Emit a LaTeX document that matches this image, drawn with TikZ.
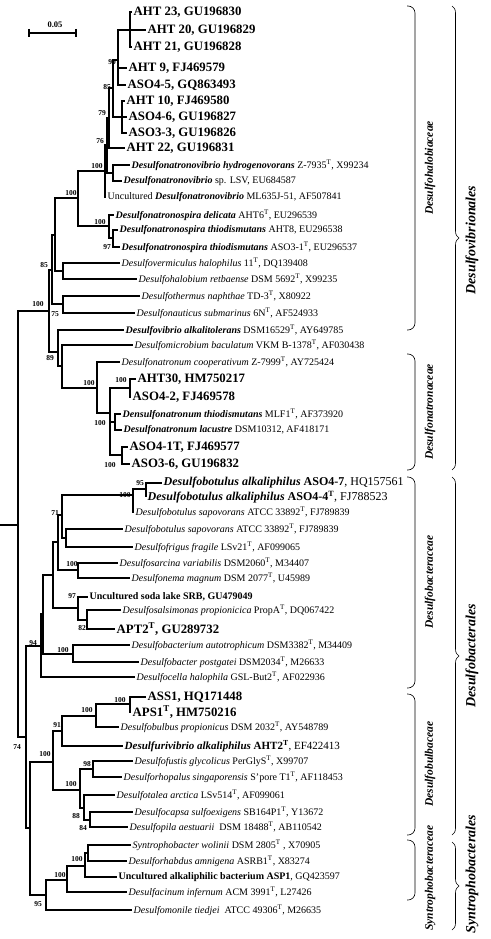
\documentclass[tikz,border=0pt]{standalone}
\usepackage{fontspec}
\setmainfont{Liberation Serif}
\usetikzlibrary{calc,decorations.pathreplacing}
\newcommand{\bi}[1]{\textbf{\textit{#1}}}
\newcommand{\Ty}{\textsuperscript{T}}

\begin{document}
\begin{tikzpicture}[
  x=1pt, y=-1pt,
  branch/.style={line width=1.3pt},
  taxon/.style={anchor=west, inner xsep=1.5pt, inner ysep=0pt, font=\fontsize{10}{12}\selectfont},
  taxonbig/.style={taxon, font=\fontsize{12}{14}\selectfont},
  isolate/.style={taxon, font=\fontsize{12.8}{14}\selectfont\bfseries},
  bootval/.style={inner sep=0pt, font=\fontsize{7.5}{8}\selectfont\bfseries},
  familybrace/.style={line width=0.6pt, rounded corners=7pt},
  orderbrace/.style={line width=0.6pt, decorate, decoration={brace, amplitude=7pt}},
  familylabel/.style={rotate=90, font=\fontsize{11.5}{13}\selectfont\bfseries\itshape},
  orderlabel/.style={rotate=90, font=\fontsize{14}{16}\selectfont\bfseries\itshape}
]
\useasboundingbox (0,0) rectangle (490,939);

% scale bar
\coordinate (bar0) at (29,33);
\coordinate (bar1) at (76,33);
\draw[line width=1.1pt] (bar0) -- (bar1);
\draw[line width=1.1pt] ($(bar0)+(0,-4)$) -- ($(bar0)+(0,4)$);
\draw[line width=1.1pt] ($(bar1)+(0,-4)$) -- ($(bar1)+(0,4)$);
\node[bootval, font=\fontsize{8.5}{9}\selectfont\bfseries] (barlabel) at (55,25) {0.05};

% leaves: Desulfovibrionales
\node[isolate] (l01) at (132,12) {AHT 23, GU196830};
\node[isolate] (l02) at (146,30) {AHT 20, GU196829};
\node[isolate] (l03) at (132,47) {AHT 21, GU196828};
\node[isolate] (l04) at (127,68) {AHT 9, FJ469579};
\node[isolate] (l05) at (126,85) {ASO4-5, GQ863493};
\node[isolate] (l06) at (125,101) {AHT 10, FJ469580};
\node[isolate] (l07) at (127,117) {ASO4-6, GU196827};
\node[isolate] (l08) at (127,133) {ASO3-3, GU196826};
\node[isolate] (l09) at (125,148) {AHT 22, GU196831};
\node[taxon] (l10) at (130,165) {\bi{Desulfonatronovibrio hydrogenovorans} Z-7935\Ty, X99234};
\node[taxon] (l11) at (122,181) {\bi{Desulfonatronovibrio} sp. LSV, EU684587};
\node[taxon] (l12) at (106,197) {Uncultured \bi{Desulfonatronovibrio} ML635J-51, AF507841};
\node[taxon] (l13) at (114,215) {\bi{Desulfonatronospira delicata} AHT6\Ty, EU296539};
\node[taxon] (l14) at (118,230) {\bi{Desulfonatronospira thiodismutans} AHT8, EU296538};
\node[taxon] (l15) at (120,247) {\bi{Desulfonatronospira thiodismutans} ASO3-1\Ty, EU296537};
\node[taxon] (l16) at (120,263) {\textit{Desulfovermiculus halophilus} 11\Ty, DQ139408};
\node[taxon] (l17) at (137,279) {\textit{Desulfohalobium retbaense} DSM 5692\Ty, X99235};
\node[taxon] (l18) at (140,296) {\textit{Desulfothermus naphthae} TD-3\Ty, X80922};
\node[taxon] (l19) at (135,313) {\textit{Desulfonauticus submarinus} 6N\Ty, AF524933};
\node[taxon] (l20) at (124,330) {\bi{Desulfovibrio alkalitolerans} DSM16529\Ty, AY649785};
\node[taxon] (l21) at (133,345) {\textit{Desulfomicrobium baculatum} VKM B-1378\Ty, AF030438};
\node[taxon] (l22) at (120,362) {\textit{Desulfonatronum cooperativum} Z-7999\Ty, AY725424};
\node[isolate] (l23) at (136,379) {AHT30, HM750217};
\node[isolate] (l24) at (131,397) {ASO4-2, FJ469578};
\node[taxon] (l25) at (121,414) {\bi{Densulfonatronum thiodismutans} MLF1\Ty, AF373920};
\node[taxon] (l26) at (122,430) {\bi{Desulfonatronum lacustre} DSM10312, AF418171};
\node[isolate] (l27) at (128,447) {ASO4-1T, FJ469577};
\node[isolate] (l28) at (130,464) {ASO3-6, GU196832};

% leaves: Desulfobacterales
\node[taxonbig] (l29) at (162,483) {\bi{Desulfobotulus alkaliphilus} \textbf{ASO4-7}, HQ157561};
\node[taxonbig] (l30) at (146,497) {\bi{Desulfobotulus alkaliphilus} \textbf{ASO4-4\Ty}, FJ788523};
\node[taxon] (l31) at (134,512) {\textit{Desulfobotulus sapovorans} ATCC 33892\Ty, FJ789839};
\node[taxon] (l32) at (123,529) {\textit{Desulfobotulus sapovorans} ATCC 33892\Ty, FJ789839};
\node[taxon] (l33) at (133,547) {\textit{Desulfofrigus fragile} LSv21\Ty, AF099065};
\node[taxon] (l34) at (118,563) {\textit{Desulfosarcina variabilis} DSM2060\Ty, M34407};
\node[taxon] (l35) at (130,578) {\textit{Desulfonema magnum} DSM 2077\Ty, U45989};
\node[taxon] (l36) at (88,597) {\textbf{Uncultured soda lake SRB, GU479049}};
\node[taxon] (l37) at (121,610) {\textit{Desulfosalsimonas propionicica} PropA\Ty, DQ067422};
\node[isolate] (l38) at (115,629) {APT2\Ty, GU289732};
\node[taxon] (l39) at (130,645) {\textit{Desulfobacterium autotrophicum} DSM3382\Ty, M34409};
\node[taxon] (l40) at (139,662) {\textit{Desulfobacter postgatei} DSM2034\Ty, M26633};
\node[taxon] (l41) at (135,677) {\textit{Desulfocella halophila} GSL-But2\Ty, AF022936};
\node[isolate] (l42) at (146,697) {ASS1, HQ171448};
\node[isolate] (l43) at (131,712) {APS1\Ty, HM750216};
\node[taxon] (l44) at (119,727) {\textit{Desulfobulbus propionicus} DSM 2032\Ty, AY548789};
\node[taxon, font=\fontsize{11}{13}\selectfont] (l45) at (123,746) {\bi{Desulfurivibrio alkaliphilus} \textbf{AHT2\Ty}, EF422413};
\node[taxon] (l46) at (133,761) {\textit{Desulfofustis glycolicus} PerGlyS\Ty, X99707};
\node[taxon] (l47) at (122,777) {\textit{Desulforhopalus singaporensis} S'pore T1\Ty, AF118453};
\node[taxon] (l48) at (115,795) {\textit{Desulfotalea arctica} LSv514\Ty, AF099061};
\node[taxon] (l49) at (133,812) {\textit{Desulfocapsa sulfoexigens} SB164P1\Ty, Y13672};
\node[taxon] (l50) at (128,827) {\textit{Desulfopila aestuarii}\ \ DSM 18488\Ty, AB110542};

% leaves: Syntrophobacterales
\node[taxon] (l51) at (131,845) {\textit{Syntrophobacter wolinii} DSM 2805\Ty\ , X70905};
\node[taxon] (l52) at (127,861) {\textit{Desulforhabdus amnigena} ASRB1\Ty, X83274};
\node[taxon] (l53) at (117,877) {\textbf{Uncultured alkaliphilic bacterium ASP1}, GQ423597};
\node[taxon] (l54) at (127,892) {\textit{Desulfacinum infernum} ACM 3991\Ty, L27426};
\node[taxon] (l55) at (132,910) {\textit{Desulfomonile tiedjei}\ \ ATCC 49306\Ty, M26635};

% inner nodes
\coordinate (c1) at (130,30);
\coordinate (c2) at (118,60);
\coordinate (c3) at (122,117);
\coordinate (c4) at (113,88);
\coordinate (c5) at (109,118);
\coordinate (c6) at (113,173);
\coordinate (c7) at (107,145);
\coordinate (c8) at (105,171);
\coordinate (c9) at (113,238);
\coordinate (c10) at (109,226);
\coordinate (c11) at (78,198);
\coordinate (c12) at (63,271);
\coordinate (c13) at (63,304);
\coordinate (c14) at (55,235);
\coordinate (c15) at (52,270);
\coordinate (c16) at (130,388);
\coordinate (c17) at (115,422);
\coordinate (c18) at (122,455);
\coordinate (c19) at (110,413);
\coordinate (c20) at (97,388);
\coordinate (c21) at (62,366);
\coordinate (c22) at (58,352);
\coordinate (c23) at (49,311);
\coordinate (c24) at (146,489);
\coordinate (c25) at (133,495);
\coordinate (c26) at (66,538);
\coordinate (c27) at (62,515);
\coordinate (c28) at (78,570);
\coordinate (c29) at (58,542);
\coordinate (c30) at (87,620);
\coordinate (c31) at (78,608);
\coordinate (c32) at (53,575);
\coordinate (c33) at (73,654);
\coordinate (c34) at (43,614);
\coordinate (c35) at (41,646);
\coordinate (c36) at (130,704);
\coordinate (c37) at (96,716);
\coordinate (c38) at (62,731);
\coordinate (c39) at (93,769);
\coordinate (c40) at (90,820);
\coordinate (c41) at (84,808);
\coordinate (c42) at (80,790);
\coordinate (c43) at (53,762);
\coordinate (c44) at (88,853);
\coordinate (c45) at (85,866);
\coordinate (c46) at (67,880);
\coordinate (c47) at (46,895);
\coordinate (c48) at (30,828);
\coordinate (c49) at (26,737);
\coordinate (root) at (18,525);
\coordinate (stem) at (0,525);

% branches to leaves
\foreach \p/\c in {c1/l01, c1/l02, c1/l03, c2/l04, c2/l05, c3/l06, c3/l07, c3/l08,
    c5/l09, c6/l10, c6/l11, c8/l12, c10/l13, c9/l14, c9/l15, c12/l16, c12/l17,
    c13/l18, c13/l19, c22/l20, c21/l21, c20/l22, c16/l23, c16/l24, c17/l25, c17/l26,
    c18/l27, c18/l28, c24/l29, c24/l30, c25/l31, c26/l32, c26/l33, c28/l34, c28/l35,
    c31/l36, c30/l37, c30/l38, c33/l39, c33/l40, c35/l41, c36/l42, c36/l43, c37/l44,
    c38/l45, c39/l46, c39/l47, c41/l48, c40/l49, c40/l50, c44/l51, c44/l52, c45/l53,
    c46/l54, c47/l55}
  \draw[branch] (\p) |- (\c.west);

% branches between inner nodes
\foreach \p/\c in {c2/c1, c4/c2, c4/c3, c5/c4, c7/c5, c7/c6, c8/c7, c10/c9, c11/c8,
    c11/c10, c14/c11, c14/c12, c15/c14, c15/c13, c19/c16, c19/c17, c19/c18, c20/c19,
    c21/c20, c22/c21, c23/c15, c23/c22, c25/c24, c27/c25, c27/c26, c29/c27, c29/c28,
    c31/c30, c32/c29, c32/c31, c34/c32, c34/c33, c35/c34, c37/c36, c38/c37, c41/c40,
    c42/c39, c42/c41, c43/c38, c43/c42, c45/c44, c46/c45, c47/c46, c48/c43, c48/c47,
    c49/c35, c49/c48, root/c23, root/c49}
  \draw[branch] (\p) |- (\c);
\draw[branch] (stem) -- (root);

% bootstrap values
\foreach \bx/\by/\bv [count=\i] in {112/62/90, 107/87/85, 102/113/79, 100/141/76,
    97/166/100, 71/193/100, 100/222/100, 107/247/97, 44/265/85, 38/304/100, 55/314/75,
    50/358/89, 89/383/100, 121/380/100, 100/423/100, 110/465/100, 140/483/95,
    125/495/100, 55/513/71, 72/564/100, 72/596/97, 82/628/82, 33/643/94, 63/650/100,
    120/700/100, 87/710/100, 57/725/91, 17/747/74, 45/754/100, 87/764/98, 71/784/100,
    76/816/88, 83/828/84, 77/859/100, 60/875/100, 38/904/95}
  \node[bootval] (bs\i) at (\bx,\by) {\bv};

% families
\draw[familybrace] (407,6) -- (415,6) -- (415,330) -- (407,330);
\node[familylabel] (fam1) at (430,168) {Desulfohalobiaceae};
\draw[familybrace] (407,354) -- (415,354) -- (415,470) -- (407,470);
\node[familylabel] (fam2) at (430,412) {Desulfonatronaceae};
\draw[familybrace] (407,477) -- (415,477) -- (415,688) -- (407,688);
\node[familylabel] (fam3) at (430,582) {Desulfobacteraceae};
\draw[familybrace] (407,694) -- (415,694) -- (415,835) -- (407,835);
\node[familylabel] (fam4) at (430,764) {Desulfobulbaceae};
\draw[familybrace] (407,840) -- (415,840) -- (415,900) -- (407,900);
\node[familylabel] (fam5) at (430,878) {Syntrophobacteraceae};

% orders
\draw[orderbrace] (452,6) -- (452,470);
\node[orderlabel] (ord1) at (472,240) {Desulfovibrionales};
\draw[orderbrace] (452,477) -- (452,835);
\node[orderlabel] (ord2) at (472,656) {Desulfobacterales};
\draw[orderbrace] (452,842) -- (452,930);
\node[orderlabel] (ord3) at (472,874) {Syntrophobacterales};
\end{tikzpicture}
\end{document}
